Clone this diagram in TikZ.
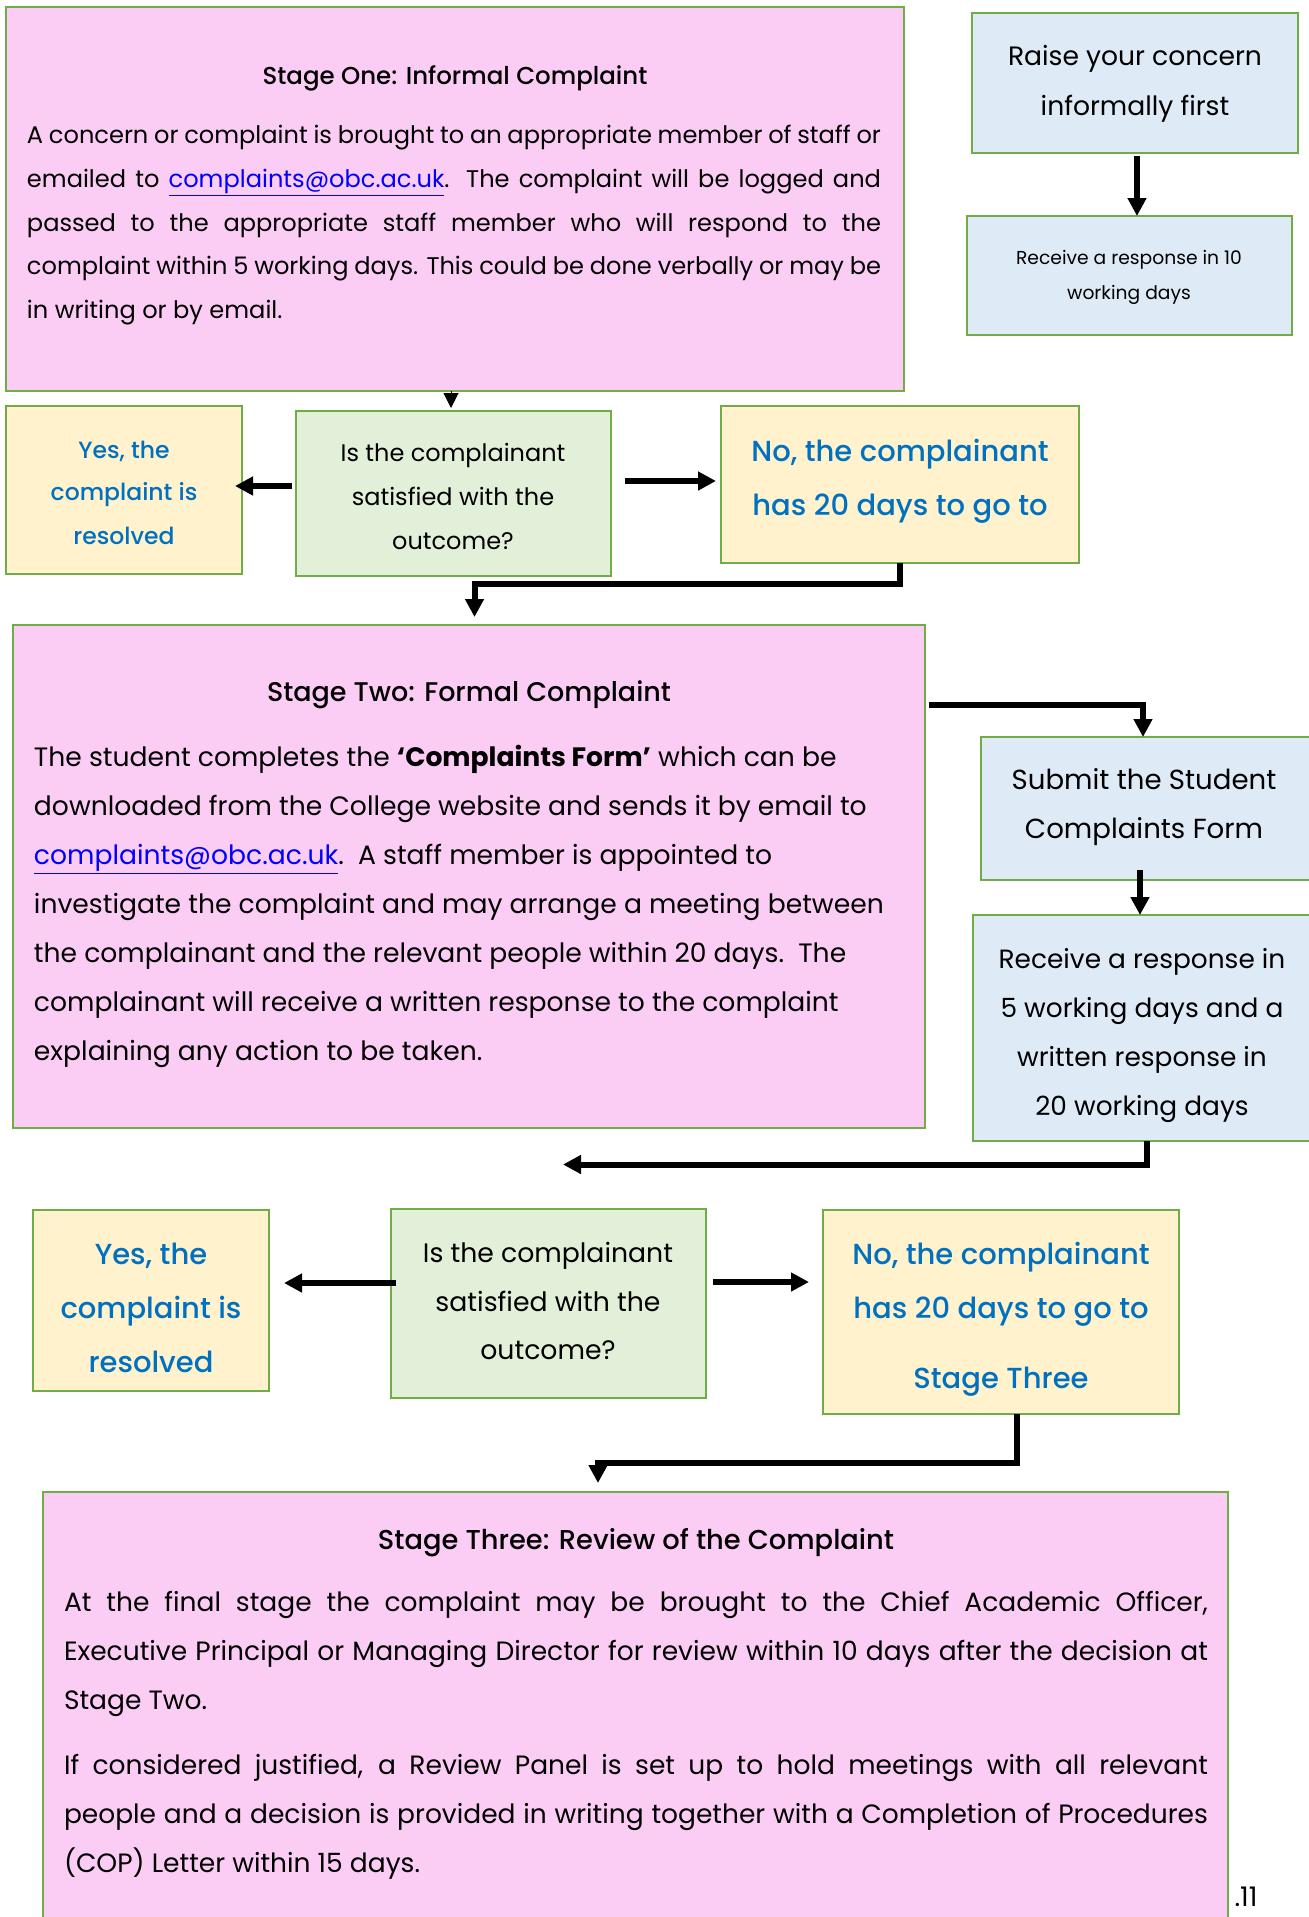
\documentclass[tikz,border=0pt]{standalone}
\usepackage{fontspec}
\setmainfont{Poppins}
\newfontfamily\medfont{Poppins Medium}
\usetikzlibrary{arrows.meta}
\definecolor{pinkfill}{HTML}{FBCDF5}
\definecolor{bluefill}{HTML}{DEEAF6}
\definecolor{greenfill}{HTML}{E2EFD9}
\definecolor{yellowfill}{HTML}{FFF2CC}
\definecolor{boxline}{HTML}{70AD47}
\definecolor{bluetext}{HTML}{0070C0}
\definecolor{linkblue}{HTML}{0000FF}
\newcommand{\fsz}[1]{\fontsize{#1pt}{#1pt}\selectfont}
\newcommand{\mylink}{{\color{linkblue}\underline{complaints@obc.ac.uk}}}
\begin{document}
\begin{tikzpicture}[x=1pt,y=-1pt,
  box/.style={draw=boxline, line width=2.2pt, anchor=north west, inner sep=0pt, outer sep=0pt},
  pinkbox/.style={box, fill=pinkfill},
  bluebox/.style={box, fill=bluefill},
  greenbox/.style={box, fill=greenfill},
  yellowbox/.style={box, fill=yellowfill},
  txt/.style={inner sep=0pt, outer sep=0pt, text=black, anchor=mid, yshift=-7pt},
  ltxt/.style={inner sep=0pt, outer sep=0pt, text=black, anchor=mid west, yshift=-7pt},
  btxt/.style={inner sep=0pt, outer sep=0pt, text=bluetext, anchor=mid, yshift=-7pt},
  arr/.style={line width=6pt, -{Triangle[width=18pt,length=18pt]}},
]
\useasboundingbox (0,0) rectangle (1309,1917);
\fill[white] (0,0) rectangle (1309,1917);

% ---------- boxes ----------
\node[pinkbox, minimum width=898pt, minimum height=384pt] (s1) at (6,7) {};
\node[bluebox, minimum width=326pt, minimum height=140pt] (b1) at (972,13) {};
\node[bluebox, minimum width=325pt, minimum height=119pt] (b2) at (967,216) {};
\node[yellowbox, minimum width=236pt, minimum height=168pt] (y1) at (6,406) {};
\node[greenbox, minimum width=315pt, minimum height=165pt] (q1) at (296,411) {};
\node[yellowbox, minimum width=358pt, minimum height=157pt] (n1) at (721,406) {};
\node[pinkbox, minimum width=912pt, minimum height=503pt] (s2) at (13,625) {};
\node[bluebox, minimum width=334pt, minimum height=143pt] (b3) at (981,737) {};
\node[bluebox, minimum width=342pt, minimum height=226pt] (b4) at (973,915) {};
\node[yellowbox, minimum width=236pt, minimum height=181pt] (y2) at (33,1210) {};
\node[greenbox, minimum width=315pt, minimum height=189pt] (q2) at (391,1209) {};
\node[yellowbox, minimum width=356pt, minimum height=204pt] (n2) at (823,1210) {};
\node[pinkbox, minimum width=1185pt, minimum height=440pt] (s3) at (43,1492) {};

% ---------- Stage One ----------
\node[txt, font=\fsz{24.5}\medfont] (s1t) at (455,75) {Stage One: Informal Complaint};
\begin{scope}[every node/.style={ltxt, font=\fsz{24.1}}]
\node (s1a) at (27,134) {\makebox[854pt][s]{A concern or complaint is brought to an appropriate member of staff or}};
\node (s1b) at (27,178) {\makebox[854pt][s]{emailed to \mylink. The complaint will be logged and}};
\node (s1c) at (27,222) {\makebox[854pt][s]{passed to the appropriate staff member who will respond to the}};
\node (s1d) at (27,265) {\makebox[854pt][s]{complaint within 5 working days. This could be done verbally or may be}};
\node (s1e) at (27,309) {in writing or by email.};
\end{scope}

% ---------- right column top ----------
\node[txt, font=\fsz{26.6}] (b1a) at (1135,56) {Raise your concern};
\node[txt, font=\fsz{26.6}] (b1b) at (1135,106) {informally first};
\node[txt, font=\fsz{18.7}] (b2a) at (1129,255) {Receive a response in 10};
\node[txt, font=\fsz{18.7}] (b2b) at (1129,290) {working days};

% ---------- row 1 ----------
\node[btxt, font=\fsz{23.5}\medfont] (y1a) at (124,449) {Yes, the};
\node[btxt, font=\fsz{23.5}\medfont] (y1b) at (124,491) {complaint is};
\node[btxt, font=\fsz{23.5}\medfont] (y1c) at (124,535) {resolved};
\node[txt, font=\fsz{24}] (q1a) at (453,452) {Is the complainant};
\node[txt, font=\fsz{24}] (q1b) at (453,496) {satisfied with the};
\node[txt, font=\fsz{24}] (q1c) at (453,540) {outcome?};
\node[btxt, font=\fsz{29}\medfont] (n1a) at (900,452) {No, the complainant};
\node[btxt, font=\fsz{29}\medfont] (n1b) at (900,506) {has 20 days to go to};

% ---------- Stage Two ----------
\node[txt, font=\fsz{27}\medfont] (s2t) at (469,692) {Stage Two: Formal Complaint};
\begin{scope}[every node/.style={ltxt, font=\fsz{26.6}}]
\node (s2a) at (34,757) {The student completes the \textbf{‘Complaints Form’} which can be};
\node (s2b) at (34,806) {downloaded from the College website and sends it by email to};
\node (s2c) at (34,855) {\mylink.\ \ A staff member is appointed to};
\node (s2d) at (34,904) {investigate the complaint and may arrange a meeting between};
\node (s2e) at (34,953) {the complainant and the relevant people within 20 days.\ \ The};
\node (s2f) at (34,1002) {complainant will receive a written response to the complaint};
\node (s2g) at (34,1051) {explaining any action to be taken.};
\end{scope}

% ---------- right column middle ----------
\node[txt, font=\fsz{27.6}] (b3a) at (1144,780) {Submit the Student};
\node[txt, font=\fsz{27.6}] (b3b) at (1144,829) {Complaints Form};
\node[txt, font=\fsz{26.4}] (b4a) at (1142,959) {Receive a response in};
\node[txt, font=\fsz{26.4}] (b4b) at (1142,1008) {5 working days and a};
\node[txt, font=\fsz{26.4}] (b4c) at (1142,1057) {written response in};
\node[txt, font=\fsz{26.4}] (b4d) at (1142,1106) {20 working days};

% ---------- row 2 ----------
\node[btxt, font=\fsz{29}\medfont] (y2a) at (151,1255) {Yes, the};
\node[btxt, font=\fsz{29}\medfont] (y2b) at (151,1309) {complaint is};
\node[btxt, font=\fsz{29}\medfont] (y2c) at (151,1363) {resolved};
\node[txt, font=\fsz{26.7}] (q2a) at (548,1253) {Is the complainant};
\node[txt, font=\fsz{26.7}] (q2b) at (548,1302) {satisfied with the};
\node[txt, font=\fsz{26.7}] (q2c) at (548,1350) {outcome?};
\node[btxt, font=\fsz{29}\medfont] (n2a) at (1001,1255) {No, the complainant};
\node[btxt, font=\fsz{29}\medfont] (n2b) at (1001,1309) {has 20 days to go to};
\node[btxt, font=\fsz{29}\medfont] (n2c) at (1001,1379) {Stage Three};

% ---------- Stage Three ----------
\node[txt, font=\fsz{27.3}\medfont] (s3t) at (636,1540) {Stage Three: Review of the Complaint};
\begin{scope}[every node/.style={ltxt, font=\fsz{26.5}}]
\node (s3a) at (64,1602) {\makebox[1144pt][s]{At the final stage the complaint may be brought to the Chief Academic Officer,}};
\node (s3b) at (64,1651) {\makebox[1144pt][s]{Executive Principal or Managing Director for review within 10 days after the decision at}};
\node (s3c) at (64,1700) {Stage Two.};
\node (s3d) at (64,1765) {\makebox[1144pt][s]{If considered justified, a Review Panel is set up to hold meetings with all relevant}};
\node (s3e) at (64,1814) {\makebox[1144pt][s]{people and a decision is provided in writing together with a Completion of Procedures}};
\node (s3f) at (64,1863) {(COP) Letter within 15 days.};
\end{scope}
\node[txt, font=\fsz{27}] (pg) at (1246,1897) {.11};

% ---------- connectors ----------
\draw[arr] (b1.south -| 1137,0) ++(0,3) -- (b2.north -| 1137,0);
\draw[line width=1pt, -{Triangle[width=15pt,length=15pt]}] (s1.south -| 451,0) -- (451,408);
\draw[arr] ([yshift=7.5pt]q1.west) ++(-4,0) -- ([yshift=4pt,xshift=-7pt]y1.east);
\draw[arr] ([yshift=12.5pt]q1.east) ++(14,0) -- ([yshift=3.5pt,xshift=-5pt]n1.west);
\draw[arr] (n1.south -| 900,0) -- (900,584) -- (474.5,584) -- (474.5,617);
\draw[arr] (s2.east |- 0,705) ++(4,0) -- (1143,705) -- (b3.north -| 1143,0);
\draw[arr] (1140,870) -- (b4.north -| 1140,0);
\coordinate (r2end) at (563,1164.5);
\draw[arr] (b4.south -| 1147,0) -- (1147,1164.5) -- (r2end);
\draw[arr] ([yshift=20.5pt]q2.west) ++(5,0) -- ([yshift=17.5pt,xshift=15pt]y2.east);
\draw[arr] ([yshift=21.5pt]q2.east) ++(7,0) -- ([yshift=30pt,xshift=-14pt]n2.west);
\draw[arr] (n2.south -| 1017,0) -- (1017,1463) -- (598,1463) -- (598,1483);
\end{tikzpicture}
\end{document}
